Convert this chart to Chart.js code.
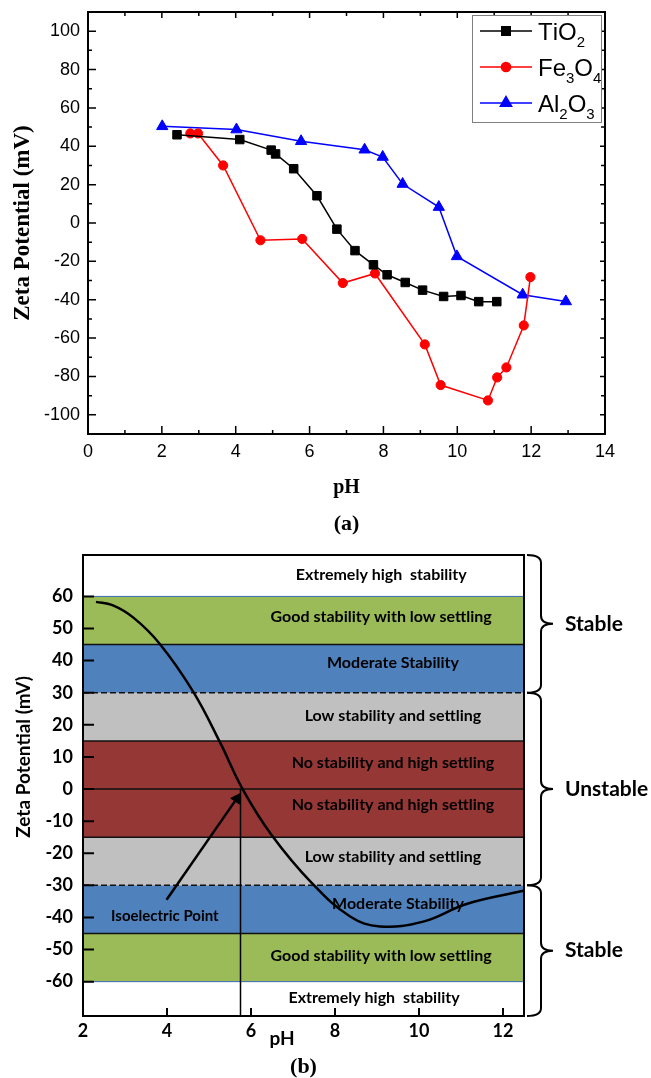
<!DOCTYPE html>
<html>
<head>
<meta charset="utf-8">
<script src="https://cdn.jsdelivr.net/npm/chart.js@4.4.1/dist/chart.umd.min.js"></script>
<style>
  html, body { margin: 0; padding: 0; background: #fff; overflow: hidden; }
  canvas { display: block; }
</style>
</head>
<body>
<canvas id="chartA" width="651" height="540"></canvas>
<canvas id="chartB" width="651" height="538"></canvas>
<script>
// ---- (a) measured zeta potential vs pH ----
const seriesNames = ['TiO2', 'Fe3O4', 'Al2O3'];
const tio2Ph   = [2.41, 4.11, 4.96, 5.08, 5.57, 6.2, 6.74, 7.23, 7.73, 8.1, 8.59, 9.06, 9.63, 10.1, 10.58, 11.07];
const tio2Zeta = [46, 43.5, 38, 36, 28.3, 14.2, -3.2, -14.4, -21.8, -27, -31, -35, -38.3, -37.8, -41, -41];
const fe3o4Ph   = [2.77, 2.98, 3.66, 4.67, 5.8, 6.9, 7.77, 9.12, 9.55, 10.83, 11.08, 11.33, 11.8, 11.98];
const fe3o4Zeta = [46.7, 46.7, 30, -9, -8.3, -31.3, -26.3, -63.3, -84.5, -92.5, -80.5, -75.3, -53.4, -28.2];
const al2o3Ph   = [2.01, 4.02, 5.77, 7.49, 7.98, 8.52, 9.5, 9.99, 11.77, 12.94];
const al2o3Zeta = [50.4, 48.7, 42.6, 38.2, 34.4, 20.3, 8.3, -17.4, -37.4, -40.9];
const phTicksA   = [0, 2, 4, 6, 8, 10, 12, 14];
const zetaTicksA = [-100, -80, -60, -40, -20, 0, 20, 40, 60, 80, 100];

// ---- (b) stability schematic ----
const phTicksB   = [2, 4, 6, 8, 10, 12];
const zetaTicksB = [60, 50, 40, 30, 20, 10, 0, -10, -20, -30, -40, -50, -60];
const curvePh   = [2.31, 2.7, 3.2, 3.83, 4.63, 5.26, 5.8, 6.49, 7.45, 8.36, 9.07, 10.1, 11.13, 12.48];
const curveZeta = [58.3, 57.3, 53.4, 45.2, 30.2, 14.6, 0, -14.3, -29.3, -39.7, -42.8, -41.3, -35.8, -31.7];
const bandEdges = [60, 45, 30, 15, 0, -15, -30, -45, -60];
const bandLabels = ['Extremely high  stability', 'Good stability with low settling', 'Moderate Stability',
  'Low stability and settling', 'No stability and high settling', 'No stability and high settling',
  'Low stability and settling', 'Moderate Stability', 'Good stability with low settling', 'Extremely high  stability'];
const bandLabelPh   = [9.1, 9.1, 9.38, 9.38, 9.38, 9.38, 9.38, 9.5, 9.1, 8.93];
const bandLabelZeta = [66.7, 53.7, 39.2, 22.8, 8.2, -5, -21, -35.8, -52, -64.9];
const isoelectricPh = 5.75;
const arrowTail = {x: 3.99, y: -34.5};
const arrowHead = {x: 5.66, y: -3};
const zoneRanges = [[72.9, 30], [30, -30], [-30, -70.7]];
const zoneNames = ['Stable', 'Unstable', 'Stable'];

// styles
const seriesColors = ['#000000', '#ff0000', '#0000ff'];
const seriesMarkers = [['rect', 6], ['circle', 4.6], ['triangle', 6.5]];
const bandColors = ['#9bbb59', '#4f81bd', '#c0c0c0', '#953735', '#953735', '#c0c0c0', '#4f81bd', '#9bbb59'];
const SANS = "'Liberation Sans', Arial, sans-serif";
const SERIF = "'Liberation Serif', 'Times New Roman', serif";
const CAL = "Lato, 'Open Sans', sans-serif";

Chart.defaults.color = '#000';

const toPoints = (xs, ys) => xs.map((x, i) => ({x, y: ys[i]}));
const mids = arr => arr.slice(1).map((v, i) => (v + arr[i]) / 2);

// draw "Fe3O4" style labels with digits as subscripts
function drawFormula(ctx, text, x, y, size, subSize, drop) {
  let cx = x;
  for (const ch of text) {
    const sub = /[0-9]/.test(ch);
    ctx.font = (sub ? subSize : size) + 'px ' + SANS;
    ctx.fillText(ch, cx, sub ? y + drop : y);
    cx += ctx.measureText(ch).width;
  }
}

const frameA = {
  id: 'frameA',
  afterDatasetsDraw(chart) {
    const {ctx, chartArea: a, scales: {x, y}} = chart;
    ctx.save();
    ctx.strokeStyle = '#000';
    ctx.lineWidth = 1.5;
    ctx.beginPath();
    const xMaj = phTicksA.filter(v => v > x.min && v < x.max);
    const yMaj = zetaTicksA;
    const xMin = mids(phTicksA);
    const yMin = mids(zetaTicksA);
    xMaj.forEach(v => { const p = x.getPixelForValue(v);
      ctx.moveTo(p, a.bottom); ctx.lineTo(p, a.bottom - 8);
      ctx.moveTo(p, a.top); ctx.lineTo(p, a.top + 6); });
    xMin.forEach(v => { const p = x.getPixelForValue(v);
      ctx.moveTo(p, a.bottom); ctx.lineTo(p, a.bottom - 4);
      ctx.moveTo(p, a.top); ctx.lineTo(p, a.top + 4); });
    yMaj.forEach(v => { const p = y.getPixelForValue(v);
      ctx.moveTo(a.left, p); ctx.lineTo(a.left + 8, p);
      ctx.moveTo(a.right, p); ctx.lineTo(a.right - 5, p); });
    yMin.forEach(v => { const p = y.getPixelForValue(v);
      ctx.moveTo(a.left, p); ctx.lineTo(a.left + 4, p);
      ctx.moveTo(a.right, p); ctx.lineTo(a.right - 4, p); });
    ctx.stroke();
    ctx.lineWidth = 2;
    ctx.strokeRect(a.left, a.top, a.right - a.left, a.bottom - a.top);
    ctx.restore();
  }
};

const legendA = {
  id: 'legendA',
  afterDraw(chart) {
    const {ctx, chartArea: a} = chart;
    const w = 129, h = 107;
    const left = a.right - 4 - w, top = a.top + 3;
    ctx.save();
    ctx.fillStyle = '#fff';
    ctx.fillRect(left, top, w, h);
    ctx.strokeStyle = '#7f7f7f';
    ctx.lineWidth = 1;
    ctx.strokeRect(left + 0.5, top + 0.5, w, h);
    chart.data.datasets.forEach((ds, i) => {
      const yy = top + 16 + i * 36;
      ctx.strokeStyle = ds.borderColor;
      ctx.fillStyle = ds.borderColor;
      ctx.lineWidth = 1.5;
      ctx.beginPath();
      ctx.moveTo(left + 8, yy);
      ctx.lineTo(left + 60, yy);
      ctx.stroke();
      Chart.helpers.drawPoint(ctx, {pointStyle: ds.pointStyle, radius: ds.pointRadius, borderWidth: 1, rotation: 0}, left + 34, yy);
      ctx.fillStyle = '#000';
      ctx.textBaseline = 'alphabetic';
      ctx.textAlign = 'left';
      drawFormula(ctx, ds.label, left + 66, yy + 8.6, 24, 15, 7);
    });
    ctx.restore();
  }
};

new Chart(document.getElementById('chartA'), {
  type: 'line',
  data: {
    datasets: [
      [tio2Ph, tio2Zeta], [fe3o4Ph, fe3o4Zeta], [al2o3Ph, al2o3Zeta]
    ].map(([xs, ys], i) => ({
      label: seriesNames[i],
      data: toPoints(xs, ys),
      borderColor: seriesColors[i],
      backgroundColor: seriesColors[i],
      pointBackgroundColor: seriesColors[i],
      pointBorderColor: seriesColors[i],
      borderWidth: 1.5,
      pointStyle: seriesMarkers[i][0],
      pointRadius: seriesMarkers[i][1],
      pointBorderWidth: 1,
      tension: 0
    }))
  },
  options: {
    responsive: false,
    animation: false,
    events: [],
    layout: { padding: { left: 0, right: 46, top: 12, bottom: 0 } },
    plugins: {
      legend: { display: false },
      tooltip: { enabled: false },
      title: {
        display: true, text: '(a)', position: 'bottom', fullSize: false,
        font: { family: SERIF, size: 22, weight: 'bold', lineHeight: 1 },
        padding: { top: 0, bottom: 5 }
      }
    },
    scales: {
      x: {
        type: 'linear', min: 0, max: 14,
        afterBuildTicks: s => { s.ticks = phTicksA.map(v => ({value: v})); },
        afterFit: s => { s.height = 79; s.paddingLeft = 0; s.paddingRight = 0; },
        grid: { display: false, drawTicks: false }, border: { display: false },
        ticks: { padding: 7, maxRotation: 0, autoSkip: false, font: { family: SANS, size: 18 } },
        title: { display: true, text: 'pH', font: { family: SERIF, size: 20, weight: 'bold', lineHeight: 1.2 }, padding: { top: 0, bottom: 13 } }
      },
      y: {
        min: -110, max: 110,
        afterBuildTicks: s => { s.ticks = zetaTicksA.map(v => ({value: v})); },
        afterFit: s => { s.width = 88; s.paddingTop = 0; s.paddingBottom = 0; },
        grid: { display: false, drawTicks: false }, border: { display: false },
        ticks: { padding: 8, font: { family: SANS, size: 18 } },
        title: { display: true, text: 'Zeta Potential (mV)', font: { family: SERIF, size: 23, weight: 'bold', lineHeight: 1.2 }, padding: { top: 9, bottom: 0 } }
      }
    }
  },
  plugins: [frameA, legendA]
});

// ---- panel (b) ----
function drawBrace(ctx, x0, x1, x2, yTop, yBot) {
  const ym = (yTop + yBot) / 2, r = 8;
  ctx.beginPath();
  ctx.moveTo(x0, yTop);
  ctx.quadraticCurveTo(x1, yTop, x1, yTop + r);
  ctx.lineTo(x1, ym - r);
  ctx.quadraticCurveTo(x1, ym, x2, ym);
  ctx.quadraticCurveTo(x1, ym, x1, ym + r);
  ctx.lineTo(x1, yBot - r);
  ctx.quadraticCurveTo(x1, yBot, x0, yBot);
  ctx.stroke();
}

const frameB = {
  id: 'frameB',
  afterDraw(chart) {
    const {ctx, chartArea: a, scales: {x, y}} = chart;
    ctx.save();
    // band captions
    ctx.fillStyle = '#000';
    ctx.textAlign = 'center';
    ctx.textBaseline = 'middle';
    ctx.font = 'bold 16px ' + CAL;
    bandLabels.forEach((t, i) => {
      ctx.fillText(t, x.getPixelForValue(bandLabelPh[i]), y.getPixelForValue(bandLabelZeta[i]));
    });
    ctx.font = 'bold 15px ' + CAL;
    ctx.fillText('Isoelectric Point', x.getPixelForValue(3.95), y.getPixelForValue(-39.5));

    // frame and inward ticks
    ctx.strokeStyle = '#000';
    ctx.lineWidth = 2;
    ctx.beginPath();
    zetaTicksB.forEach(v => { const p = y.getPixelForValue(v); ctx.moveTo(a.left, p); ctx.lineTo(a.left + 11, p); });
    phTicksB.filter(v => v > x.min).forEach(v => { const p = x.getPixelForValue(v); ctx.moveTo(p, a.bottom); ctx.lineTo(p, a.bottom - 8); });
    ctx.stroke();
    ctx.strokeRect(a.left, a.top, a.right - a.left, a.bottom - a.top);

    // braces on the right
    zoneRanges.forEach(([hi, lo], i) => {
      const yt = y.getPixelForValue(hi), yb = y.getPixelForValue(lo);
      drawBrace(ctx, a.right + 3, a.right + 17, a.right + 29, yt, yb);
      ctx.font = 'bold 21px ' + CAL;
      ctx.textAlign = 'left';
      ctx.fillText(zoneNames[i], a.right + 41, (yt + yb) / 2);
    });

    // axis titles
    ctx.font = 'bold 19px ' + CAL;
    ctx.textAlign = 'center';
    ctx.fillText('pH', x.getPixelForValue(6.74), a.bottom + 23);
    ctx.translate(24, y.getPixelForValue(10));
    ctx.rotate(-Math.PI / 2);
    ctx.fillText('Zeta Potential (mV)', 0, 0);
    ctx.restore();
  }
};

const xLo = 2, xHi = 12.5;
const bandSets = bandColors.map((c, i) => ({
  data: [{x: xLo, y: bandEdges[i]}, {x: xHi, y: bandEdges[i]}],
  fill: { value: bandEdges[i + 1] },
  backgroundColor: c, borderWidth: 0, pointRadius: 0, order: 3
}));
const edgeSets = bandEdges.map(e => ({
  data: [{x: xLo, y: e}, {x: xHi, y: e}],
  borderColor: Math.abs(e) === 60 ? '#3a6bb0' : '#111',
  borderWidth: Math.abs(e) === 60 ? 1 : 1.5,
  borderDash: Math.abs(e) === 30 ? [6, 3] : [],
  pointRadius: 0, fill: false, order: 2
}));

new Chart(document.getElementById('chartB'), {
  type: 'line',
  data: {
    datasets: [
      { data: toPoints(curvePh, curveZeta), borderColor: '#000', borderWidth: 2.5, pointRadius: 0,
        tension: 0.4, fill: false, order: 0 },
      { data: [arrowTail, arrowHead], borderColor: '#000', backgroundColor: '#000', borderWidth: 2.5,
        pointRadius: [0, 6], pointStyle: 'triangle', pointRotation: 34, pointBorderWidth: 1, fill: false, order: 0 },
      { data: [{x: isoelectricPh, y: 0}, {x: isoelectricPh, y: -70.7}], borderColor: '#000', borderWidth: 1.5,
        pointRadius: 0, fill: false, order: 1 },
      ...edgeSets,
      ...bandSets
    ]
  },
  options: {
    responsive: false,
    animation: false,
    events: [],
    layout: { padding: { left: 0, right: 127, top: 15, bottom: 0 } },
    plugins: {
      legend: { display: false },
      tooltip: { enabled: false },
      title: {
        display: true, text: '(b)', position: 'bottom', fullSize: false,
        font: { family: SERIF, size: 22, weight: 'bold', lineHeight: 1 },
        padding: { top: 0, bottom: 0 }
      }
    },
    scales: {
      x: {
        type: 'linear', min: xLo, max: xHi,
        afterBuildTicks: s => { s.ticks = phTicksB.map(v => ({value: v})); },
        afterFit: s => { s.height = 40; s.paddingLeft = 0; s.paddingRight = 0; },
        grid: { display: false, drawTicks: false }, border: { display: false },
        ticks: { padding: 4, maxRotation: 0, autoSkip: false, font: { family: CAL, size: 18, weight: 'bold' } }
      },
      y: {
        min: -70.7, max: 72.9,
        afterBuildTicks: s => { s.ticks = zetaTicksB.map(v => ({value: v})); },
        afterFit: s => { s.width = 83; s.paddingTop = 0; s.paddingBottom = 0; },
        grid: { display: false, drawTicks: false }, border: { display: false },
        ticks: { padding: 10, font: { family: CAL, size: 18, weight: 'bold' } }
      }
    }
  },
  plugins: [frameB]
});
</script>
</body>
</html>
